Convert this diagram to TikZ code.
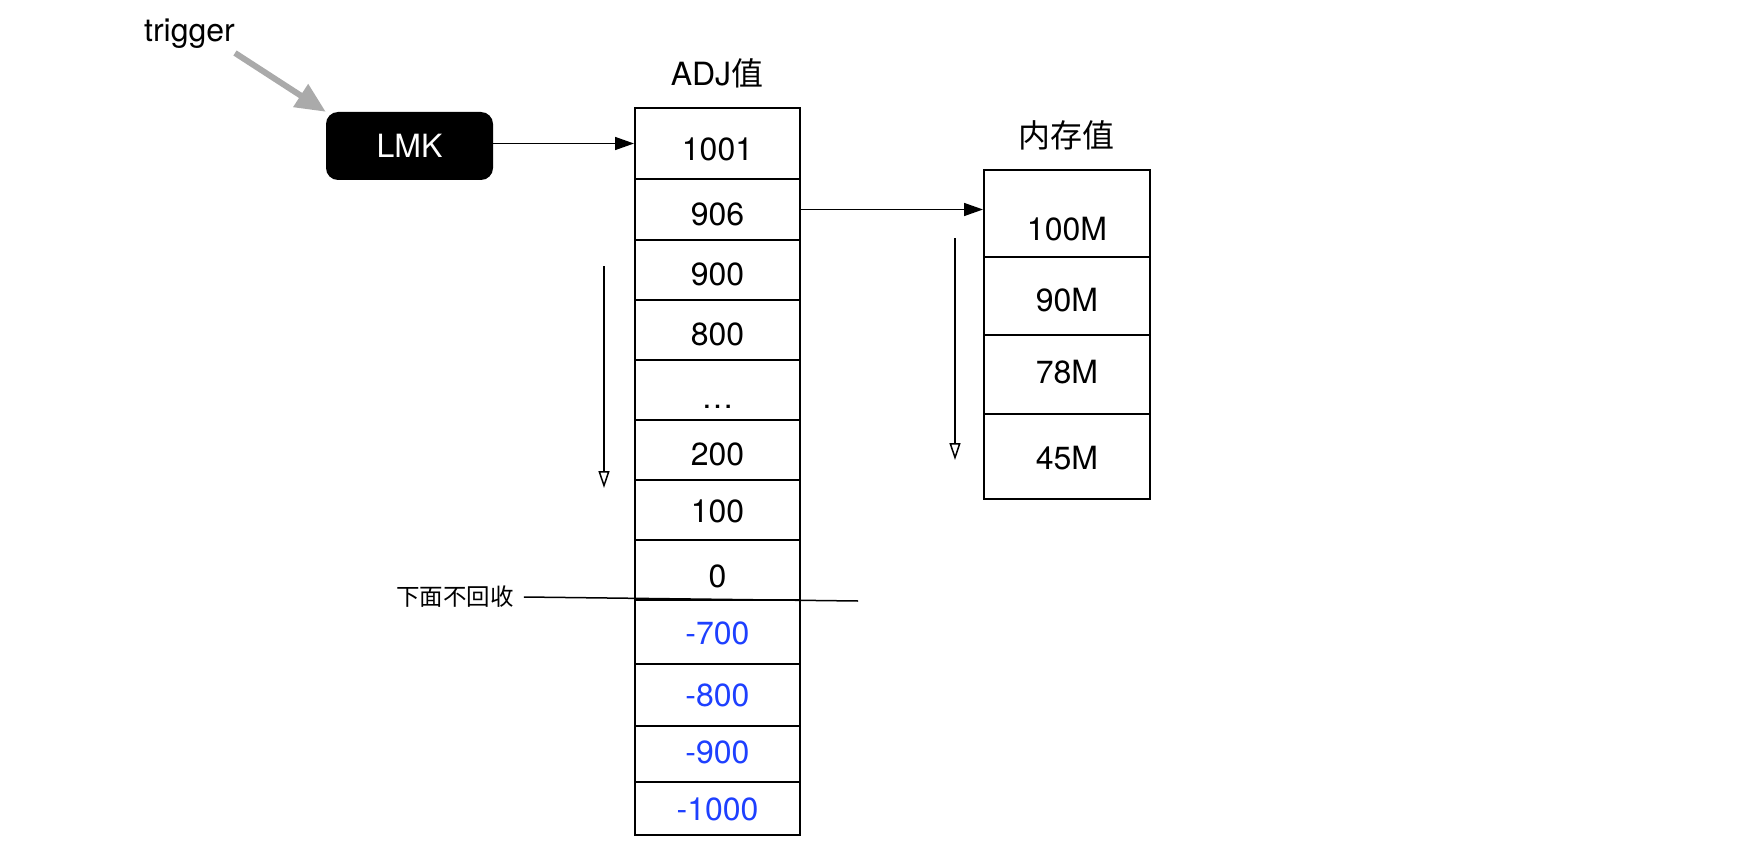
\documentclass[tikz,border=0pt]{standalone}
\usepackage{fontspec}
\setmainfont{TeX Gyre Heros}
\newfontfamily\cjk{Noto Sans CJK SC}
\usetikzlibrary{arrows.meta}
\definecolor{numblue}{RGB}{30,64,255}
\definecolor{trgray}{RGB}{170,170,170}
\newcommand\fsbig{\fontsize{32}{38}\selectfont}
\newcommand\fssmall{\fontsize{23.5}{28}\selectfont}
\begin{document}
\begin{tikzpicture}[x=1pt,y=-1pt,
  cell/.style={draw, line width=2pt, anchor=north west, inner sep=0pt,
    minimum width=165pt, text depth=0pt, font=\fsbig},
  mcell/.style={cell, minimum width=166pt},
  tdown/.style={text height=#1pt},
  neg/.style={text=numblue},
  title/.style={font=\fsbig, inner sep=0pt},
  conn/.style={line width=1.5pt, -{Triangle[length=19pt,width=13pt]}},
  flow/.style={line width=1.5pt, -{Triangle[open,length=17pt,width=11pt]}},
  trig/.style={line width=6pt, draw=trgray, -{Triangle[length=30pt,width=26pt]}},
  lmkbox/.style={fill=black, text=white, rounded corners=12pt, minimum width=167pt,
    minimum height=68pt, inner sep=0pt, font=\fsbig}
]
\path[use as bounding box] (0,0) rectangle (1738,848);

% labels
\node[title] (trigger) at (189.5,33.5) {trigger};
\node[title] (adjt) at (717,73) {ADJ{\cjk 值}};
\node[title] (memt) at (1066,135) {{\cjk 内存值}};

% LMK
\node[lmkbox] (lmk) at (409.5,146) {LMK};

% ADJ column
\node[cell, minimum height=71pt, tdown=34] (a1) at (634,107) {1001};
\node[cell, minimum height=61pt, tdown=32] (a2) at (634,178) {906};
\node[cell, minimum height=60pt, tdown=31] (a3) at (634,239) {900};
\node[cell, minimum height=60pt, tdown=31] (a4) at (634,299) {800};
\node[cell, minimum height=60pt, tdown=36] (a5) at (634,359) {…};
\node[cell, minimum height=60pt, tdown=31] (a6) at (634,419) {200};
\node[cell, minimum height=60pt, tdown=25] (a7) at (634,479) {100};
\node[cell, minimum height=60pt, tdown=35] (a8) at (634,539) {0};
\node[cell, neg, minimum height=64pt, tdown=25] (a9) at (634,599) {-700};
\node[cell, neg, minimum height=62pt, tdown=23] (a10) at (634,663) {-800};
\node[cell, neg, minimum height=56pt, tdown=19] (a11) at (634,725) {-900};
\node[cell, neg, minimum height=53pt, tdown=23] (a12) at (634,781) {-1000};

% memory column
\node[mcell, minimum height=87pt, tdown=53] (m1) at (983,169) {100M};
\node[mcell, minimum height=78pt, tdown=31] (m2) at (983,256) {90M};
\node[mcell, minimum height=79pt, tdown=17] (m3) at (983,334) {78M};
\node[mcell, minimum height=85pt, tdown=26] (m4) at (983,413) {45M};

% cut-off label and line
\node[font=\cjk\fssmall, inner xsep=10pt, inner ysep=0pt] (cut) at (455,597) {下面不回收};
\coordinate (cutend) at (858,601);
\draw[line width=1.5pt] (cut.east) -- (cutend);

% connectors
\coordinate (trigtail) at (235,53);
\draw[trig] (trigtail) -- (lmk.north west);
\draw[conn] (lmk.east |- a1.west) -- (a1.west);
\draw[conn] (a2.east) -- (a2.east -| m1.west);

% direction arrows
\coordinate (d1s) at (604,266);
\coordinate (d1e) at (604,488);
\draw[flow] (d1s) -- (d1e);
\coordinate (d2s) at (955,238);
\coordinate (d2e) at (955,460);
\draw[flow] (d2s) -- (d2e);
\end{tikzpicture}
\end{document}
